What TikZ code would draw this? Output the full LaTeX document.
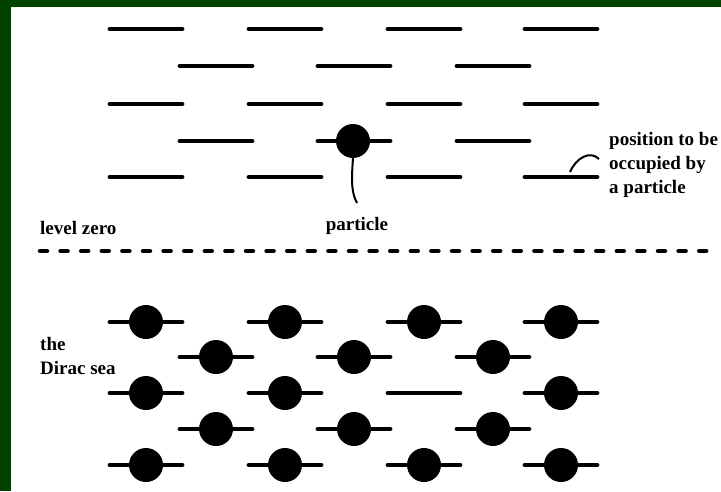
\documentclass[tikz,border=0pt]{standalone}
\usepackage{fontspec}
\setmainfont{Liberation Serif}
\begin{document}
\begin{tikzpicture}[x=1pt,y=-1pt,
  level/.style={line width=4.8pt,line cap=round},
  electron/.style={circle,fill=black,inner sep=0pt,minimum size=34pt},
  lbl/.style={font=\fontsize{19}{24}\selectfont\bfseries,inner sep=0pt,align=left}]
\useasboundingbox (0,0) rectangle (721,491);
\fill[white] (0,0) rectangle (721,491);
\definecolor{bordergreen}{RGB}{0,66,0}
\fill[bordergreen] (0,0) rectangle (721,7);
\fill[bordergreen] (0,0) rectangle (11,491);
% upper empty levels
\foreach \y/\xs in {29/{146,285,424,561},104/{146,285,424,561},177/{146,285,424,561},66/{216,354,493},141/{216,493}}{
  \foreach \x in \xs { \draw[level] (\x-36,\y) -- (\x+36,\y); }
}
% lone particle
\draw[level] (354-36,141) -- (354+36,141);
\node[electron] (p) at (353,141) {};
\coordinate (ptail) at (357,203);
\draw[line width=2pt] (p.south) .. controls (351,185) and (352,193) .. (ptail);
\node[lbl,anchor=north] (plabel) at (357,217) {particle};
% position to be occupied
\coordinate (hole) at (570,172);
\coordinate (holeend) at (599,159);
\draw[line width=2pt] (hole) .. controls (576,158) and (590,150) .. (holeend);
\node[lbl,anchor=north west] (pos) at (609,132) {position to be\\occupied by\\a particle};
% level zero
\node[lbl,anchor=west] (lz) at (40,228) {level zero};
\coordinate (dl) at (40,251);
\coordinate (dr) at (716,251);
\draw[line width=4.5pt,line cap=round,dash pattern=on 7pt off 13.6pt] (dl) -- (dr);
% Dirac sea
\node[lbl,anchor=north west] (sea) at (40,337) {the\\Dirac sea};
\foreach \y/\xs in {322/{146,285,424,561},393/{146,285,561},465/{146,285,424,561},357/{216,354,493},429/{216,354,493}}{
  \foreach \x in \xs {
    \draw[level] (\x-36,\y) -- (\x+36,\y);
    \node[electron] at (\x,\y) {};
  }
}
\draw[level] (424-36,393) -- (424+36,393);
\end{tikzpicture}
\end{document}
